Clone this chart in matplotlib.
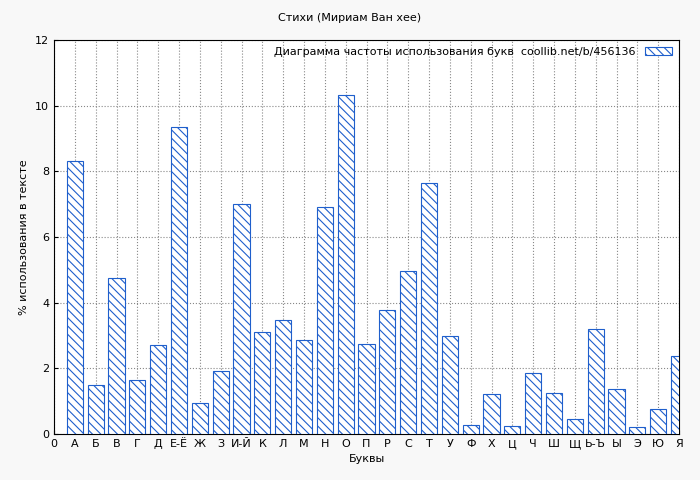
import matplotlib
matplotlib.use("Agg")
import matplotlib.pyplot as plt

letters = ["А","Б","В","Г","Д","Е-Ё","Ж","З","И-Й","К","Л","М","Н","О","П","Р","С","Т","У","Ф","Х","Ц","Ч","Ш","Щ","Ь-Ъ","Ы","Э","Ю","Я"]
values = [8.3,1.5,4.75,1.65,2.7,9.35,0.95,1.92,7.0,3.1,3.47,2.85,6.9,10.32,2.75,3.77,4.95,7.65,3.0,0.28,1.22,0.25,1.85,1.25,0.47,3.2,1.37,0.22,0.77,2.38]
xticklabels = ["0"] + letters

plt.rcParams['hatch.color'] = '#1f5fcc'
plt.rcParams['hatch.linewidth'] = 0.8
fig = plt.figure(figsize=(7, 4.8), dpi=100, facecolor='#f8f8f8')
ax = fig.add_axes([54/700, 1-434/480, (679-54)/700, (434-40)/480])
ax.set_facecolor('white')
x = list(range(1, len(letters)+1))
ax.bar(x, values, width=0.77, facecolor='white', edgecolor='#1f5fcc', hatch='\\\\\\\\', linewidth=0.8,
       label='Диаграмма частоты использования букв  coollib.net/b/456136', zorder=3)
ax.set_xlim(0, 30)
ax.set_ylim(0, 12)
ax.set_xticks(range(0, 31))
ax.set_xticklabels(xticklabels, fontsize=8)
ax.set_yticks(range(0, 13, 2))
ax.tick_params(labelsize=8, length=3, direction='in')
ax.grid(True, linestyle=':', color='#888888', linewidth=0.8, zorder=0)
ax.set_xlabel('Буквы', fontsize=8)
ax.set_ylabel('% использования в тексте', fontsize=8)
fig.text(0.5, 1-18/480, 'Стихи (Мириам Ван хее)', ha='center', va='center', fontsize=8)
ax.legend(loc='upper right', fontsize=8, frameon=False, markerfirst=False, handlelength=2.5, borderaxespad=0.2)
fig.savefig('out.png', dpi=100, facecolor=fig.get_facecolor())
